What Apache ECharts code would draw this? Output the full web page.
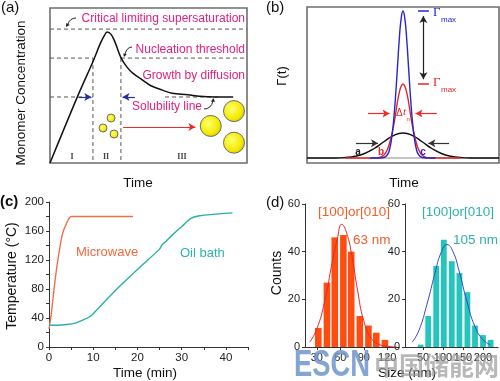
<!DOCTYPE html>
<html><head><meta charset="utf-8">
<script src="https://cdn.jsdelivr.net/npm/echarts@6/dist/echarts.min.js"></script>
<style>html,body{margin:0;padding:0;background:#fff}#c{width:500px;height:381px}</style>
</head><body><div id="c"></div>
<script>
// ---------- (a) LaMer schematic (arbitrary units 0-100) ----------
const aCurve = [[0,0],[14,43],[22,66],[25.5,77],[27.5,82],[29,84.5],[31,83],[33,78],[36,68],[39,62],[42,58],[47,53.5],[51,50],[57,47],[62,45],[70,44],[76,43],[84,42.6],[93,42.6]];
const aCritical = 86.4;
const aNucleation = 67.7;
const aSolubility = 42.6;
const aStageBounds = [21.8, 36.0];
const aSmallNuclei = [[26.9,22.6],[31,29],[32.5,18.7]];
const aBigParticles = [[81.6,23.9],[93.4,33.5],[93.4,13.1]];

// ---------- (b) nucleation rate curves (arbitrary units) ----------
const bBlue = [[33,0],[38,0],[40,0.3],[42,2.4],[43,5.6],[44,11.9],[45,22.4],[46,37.5],[47,56],[48,75],[49,89],[50,94.2],[51,89],[52,75],[53,56],[54,37.5],[55,22.4],[56,11.9],[57,5.6],[58,2.4],[60,0.3],[62,0],[67,0]];
const bRed = [[20,0],[35,0],[38,0.4],[40,1.8],[41,3.3],[42,5.8],[43,9.5],[44,14.5],[45,20],[46,27],[47,35.2],[48,41.6],[49,45.9],[50,47.4],[51,45.9],[52,41.6],[53,35.2],[54,27],[55,20],[56,14.5],[57,9.5],[58,5.8],[59,3.3],[60,1.8],[62,0.4],[65,0],[80,0]];
const bBlack = [[0,0],[15,0],[20,0.3],[25,1.1],[30,2.9],[35,6.1],[40,10.4],[45,14.4],[50,16],[55,14.4],[60,10.4],[65,6.1],[70,2.9],[75,1.1],[80,0.3],[85,0],[100,0]];
const bGammaBlue = 94.2;
const bGammaRed = 47.4;

// ---------- (c) heating profiles ----------
const microwaveTime = [0, 0.5, 1.3, 2, 3, 4, 5, 19];
const microwaveTemp = [25, 45, 88, 120, 155, 171, 180, 180];
const oilTime = [0, 2, 4, 6, 8, 9, 10, 15, 20, 25, 25.6, 26.5, 28, 30, 32, 34, 37, 41.5];
const oilTemp = [30, 30, 31, 33, 38, 41, 46, 78, 107, 135, 141, 146, 155, 166, 177, 181, 183, 185];

// ---------- (d) size histograms ----------
const sizeLeft = [32, 43, 53, 64, 74, 85, 96, 106, 117];
const countLeft = [8, 27, 46, 47, 40, 13, 9, 6, 3];
const fitLeftX = [21, 30, 40, 50, 56, 62, 68, 75, 82, 90, 100, 110, 120, 132];
const fitLeftY = [2, 7.5, 19, 36, 45, 51.5, 48, 38, 24, 11, 3.5, 1, 0.3, 0];
const sizeRight = [44, 63, 83, 102, 122, 141, 161, 180, 200, 219];
const countRight = [1, 13, 34, 45, 36, 31, 23, 9, 5, 3];
const fitRightX = [23, 40, 60, 80, 95, 110, 125, 140, 160, 180, 200, 218];
const fitRightY = [2, 7, 18, 31, 39.5, 43, 40, 32, 19, 8.5, 3, 1];
const leftTicks = [30, 60, 90, 120];
const rightTicks = [50, 100, 150, 200];

const zip = (a, b) => a.map((v, i) => [v, b[i]]);
const FONT = 'Liberation Sans';
const PINK = '#e3207f';
const ORANGE = '#f0602a';
const TEAL = '#2fb3ab';

const chart = echarts.init(document.getElementById('c'), null, {renderer: 'canvas'});

function hidden(gi, min, max) {
  return {gridIndex: gi, type: 'value', min, max, show: false};
}
function dashed(gi, pts) {
  return {type: 'line', xAxisIndex: gi, yAxisIndex: gi, data: pts, showSymbol: false, silent: true,
    lineStyle: {color: '#555', width: 1, type: [4, 3]}, z: 2};
}
function solid(gi, pts, color, width) {
  return {type: 'line', xAxisIndex: gi, yAxisIndex: gi, data: pts, showSymbol: false, silent: true,
    lineStyle: {color, width: width || 1.2}, z: 3};
}
function arrows(gi, list) {
  return {type: 'line', xAxisIndex: gi, yAxisIndex: gi, data: [], silent: true,
    markLine: {silent: true, symbol: ['none', 'arrow'], symbolSize: [6, 7], label: {show: false},
      animation: false,
      data: list.map(a => [{coord: a.from, lineStyle: {color: a.color, width: 1.2, type: 'solid'}, symbol: a.both ? 'arrow' : 'none'}, {coord: a.to}])}};
}
const yellow = {type: 'radial', x: 0.4, y: 0.4, r: 0.65,
  colorStops: [{offset: 0, color: '#ffff70'}, {offset: 0.7, color: '#f3ea00'}, {offset: 1, color: '#d8c800'}]};
function particles(pts, radius) {
  return {type: 'custom', coordinateSystem: 'cartesian2d', xAxisIndex: 0, yAxisIndex: 0, data: pts, silent: true, clip: false, z: 5,
    encode: {x: 0, y: 1},
    renderItem: function (params, api) {
      const p = api.coord([api.value(0), api.value(1)]);
      return {type: 'circle', shape: {cx: p[0], cy: p[1], r: radius},
        style: {fill: yellow, stroke: '#6d6d6d', lineWidth: 1}};
    }};
}

const axisCommon = {
  axisLine: {lineStyle: {color: '#333', width: 1}},
  axisTick: {length: 3, lineStyle: {color: '#333'}},
  axisLabel: {fontFamily: FONT, fontSize: 11, color: '#222', margin: 5},
  splitLine: {show: false}
};

function txt(text, x, y, o) {
  o = o || {};
  return {type: 'text', x: x, y: y, rotation: o.rot || 0, z: o.z || 50, scaleX: o.sx || 1,
    style: {text, fill: o.color || '#111', fontSize: o.size || 13, fontFamily: o.family || FONT,
      fontWeight: o.weight || 'normal', fontStyle: o.style || 'normal',
      align: o.align || 'left', textAlign: o.align || 'left',
      verticalAlign: 'middle', textVerticalAlign: 'middle', opacity: o.opacity == null ? 1 : o.opacity}};
}

const option = {
  animation: false,
  backgroundColor: '#fff',
  grid: [
    {left: 50, top: 8, width: 197, height: 155, show: true, borderColor: '#6e6e6e', borderWidth: 1.6, backgroundColor: 'transparent'},
    {left: 307, top: 7, width: 192, height: 156, show: true, borderColor: '#6e6e6e', borderWidth: 1.6, backgroundColor: 'transparent'},
    {left: 49, top: 202, width: 199, height: 145},
    {left: 305, top: 204, width: 94, height: 143},
    {left: 405, top: 204, width: 93, height: 143}
  ],
  xAxis: [
    hidden(0, 0, 100),
    hidden(1, 0, 100),
    Object.assign({}, axisCommon, {gridIndex: 2, type: 'value', min: 0, max: 45, interval: 10,
      minorTick: {show: true, splitNumber: 2, length: 3, lineStyle: {color: '#333'}},
      axisLabel: Object.assign({}, axisCommon.axisLabel, {fontSize: 11.5, showMaxLabel: false, formatter: v => (v % 10 === 0 ? String(v) : '')})}),
    Object.assign({}, axisCommon, {gridIndex: 3, type: 'value', min: 15, max: 135,
      axisTick: {length: 3, lineStyle: {color: '#333'}, customValues: leftTicks},
      axisLabel: Object.assign({}, axisCommon.axisLabel, {customValues: leftTicks})}),
    Object.assign({}, axisCommon, {gridIndex: 4, type: 'value', min: 5, max: 237.5,
      axisTick: {length: 3, lineStyle: {color: '#333'}, customValues: rightTicks},
      axisLabel: Object.assign({}, axisCommon.axisLabel, {customValues: rightTicks, hideOverlap: false})})
  ],
  yAxis: [
    hidden(0, 0, 100),
    hidden(1, -3.2, 96.8),
    Object.assign({}, axisCommon, {gridIndex: 2, type: 'value', min: 0, max: 200, interval: 40,
      minorTick: {show: true, splitNumber: 2, length: 3, lineStyle: {color: '#333'}},
      axisLabel: Object.assign({}, axisCommon.axisLabel, {fontSize: 11.5})}),
    Object.assign({}, axisCommon, {gridIndex: 3, type: 'value', min: 0, max: 60, interval: 20}),
    Object.assign({}, axisCommon, {gridIndex: 4, type: 'value', min: 0, max: 60, interval: 20})
  ],
  series: [
    // ----- (a)
    dashed(0, [[0, aCritical], [100, aCritical]]),
    dashed(0, [[0, aNucleation], [aStageBounds[0], aNucleation]]),
    dashed(0, [[aStageBounds[1], aNucleation], [100, aNucleation]]),
    dashed(0, [[0, aSolubility], [aStageBounds[0], aSolubility]]),
    dashed(0, [[58.4, aSolubility], [86.8, aSolubility]]),
    dashed(0, [[aStageBounds[0], aNucleation], [aStageBounds[0], 0]]),
    dashed(0, [[aStageBounds[1], aNucleation], [aStageBounds[1], 0]]),
    {type: 'line', xAxisIndex: 0, yAxisIndex: 0, data: aCurve, smooth: 0.35, showSymbol: false, silent: true,
      lineStyle: {color: '#111', width: 1.5}, z: 4},
    arrows(0, [
      {from: [14.6, aSolubility], to: [21, aSolubility], color: '#23319a'},
      {from: [43.1, aSolubility], to: [36.8, aSolubility], color: '#23319a'},
      {from: [37.1, 23.2], to: [73.8, 23.2], color: '#ef2a2a'}
    ]),
    particles(aSmallNuclei, 4),
    particles(aBigParticles, 10.5),
    // ----- (b)
    solid(1, [[0, 0], [100, 0]], '#8a8a8a', 1.2),
    {type: 'line', xAxisIndex: 1, yAxisIndex: 1, data: bBlack, smooth: true, showSymbol: false, silent: true, lineStyle: {color: '#111', width: 1.4}, z: 4},
    {type: 'line', xAxisIndex: 1, yAxisIndex: 1, data: bRed, smooth: true, showSymbol: false, silent: true, lineStyle: {color: '#e3262a', width: 1.4}, z: 5},
    {type: 'line', xAxisIndex: 1, yAxisIndex: 1, data: bBlue, smooth: true, showSymbol: false, silent: true, lineStyle: {color: '#2626cc', width: 1.4}, z: 6},
    solid(1, [[57.8, bGammaBlue], [63.5, bGammaBlue]], '#2626cc', 1.4),
    solid(1, [[57.8, bGammaRed], [63.5, bGammaRed]], '#e3262a', 1.4),
    arrows(1, [
      {from: [60.6, 50.5], to: [60.6, 91], color: '#222', both: true},
      {from: [31.8, 28.5], to: [43, 28.5], color: '#ef2a2a'},
      {from: [67.6, 28.5], to: [56.5, 28.5], color: '#ef2a2a'},
      {from: [25.5, 9.4], to: [37, 9.4], color: '#333'},
      {from: [74, 9.4], to: [63.2, 9.4], color: '#333'}
    ]),
    // ----- (c)
    {type: 'line', xAxisIndex: 2, yAxisIndex: 2, data: zip(microwaveTime, microwaveTemp), smooth: 0.2, showSymbol: false, silent: true,
      lineStyle: {color: '#ee6f45', width: 1.4}, z: 4},
    {type: 'line', xAxisIndex: 2, yAxisIndex: 2, data: zip(oilTime, oilTemp), smooth: 0.2, showSymbol: false, silent: true,
      lineStyle: {color: '#27b0a8', width: 1.4}, z: 4},
    // ----- (d)
    {type: 'bar', xAxisIndex: 3, yAxisIndex: 3, data: zip(sizeLeft, countLeft), barWidth: 6.6, silent: true,
      itemStyle: {color: '#ff4d12'}, z: 3},
    {type: 'line', xAxisIndex: 3, yAxisIndex: 3, data: zip(fitLeftX, fitLeftY), smooth: true, showSymbol: false, silent: true,
      lineStyle: {color: '#e8282a', width: 1}, z: 4},
    {type: 'bar', xAxisIndex: 4, yAxisIndex: 4, data: zip(sizeRight, countRight), barWidth: 5.8, silent: true,
      itemStyle: {color: '#22c6bd'}, z: 3},
    {type: 'line', xAxisIndex: 4, yAxisIndex: 4, data: zip(fitRightX, fitRightY), smooth: true, showSymbol: false, silent: true,
      lineStyle: {color: '#3a48c8', width: 1}, z: 4}
  ],
  graphic: [
    // (a)
    txt('(a)', 1, 8, {size: 15}),
    txt('Monomer Concentration', 21, 93, {rot: Math.PI / 2, size: 13.5, align: 'center'}),
    txt('Time', 138, 183, {size: 13.5, align: 'center'}),
    txt('Critical limiting supersaturation', 245, 19, {size: 12, color: PINK, align: 'right'}),
    txt('Nucleation threshold', 245, 49.5, {size: 12, color: PINK, align: 'right'}),
    txt('Growth by diffusion', 245, 76, {size: 12, color: PINK, align: 'right'}),
    txt('Solubility line', 132, 107, {size: 12, color: PINK}),
    txt('I', 72, 157, {size: 8, family: 'Liberation Serif', weight: 'bold', color: '#444', align: 'center'}),
    txt('II', 106, 157, {size: 8, family: 'Liberation Serif', weight: 'bold', color: '#444', align: 'center'}),
    txt('III', 182, 157, {size: 8, family: 'Liberation Serif', weight: 'bold', color: '#444', align: 'center'}),
    {type: 'bezierCurve', z: 50, shape: {x1: 76, y1: 18, cpx1: 70, cpy1: 18, x2: 68, y2: 24}, style: {stroke: '#222', lineWidth: 1, fill: null}},
    {type: 'polygon', z: 50, shape: {points: [[66, 27], [66.3, 23], [69.8, 25]]}, style: {fill: '#222'}},
    {type: 'bezierCurve', z: 50, shape: {x1: 132, y1: 47, cpx1: 127, cpy1: 47, x2: 125, y2: 54}, style: {stroke: '#222', lineWidth: 1, fill: null}},
    {type: 'polygon', z: 50, shape: {points: [[124, 57], [123.2, 53.5], [126.8, 54.2]]}, style: {fill: '#222'}},
    {type: 'bezierCurve', z: 50, shape: {x1: 204, y1: 109, cpx1: 211, cpy1: 109, x2: 213, y2: 101}, style: {stroke: '#222', lineWidth: 1, fill: null}},
    {type: 'polygon', z: 50, shape: {points: [[213.3, 98], [211, 101.8], [215, 101.8]]}, style: {fill: '#222'}},
    // (b)
    txt('(b)', 266, 8, {size: 15}),
    txt('Γ(t)', 282, 76, {rot: Math.PI / 2, size: 13, align: 'center'}),
    txt('Time', 404, 183, {size: 13.5, align: 'center'}),
    txt('Γ', 433, 12.5, {size: 13, family: 'Liberation Serif', color: '#2626cc'}),
    txt('max', 441, 19.5, {size: 8, color: '#2626cc'}),
    txt('Γ', 433, 83, {size: 13, family: 'Liberation Serif', color: '#e3262a'}),
    txt('max', 441, 90, {size: 8, color: '#e3262a'}),
    txt('Δ', 396, 113, {size: 10, color: '#e3262a'}),
    txt('t', 403, 112.5, {size: 11, style: 'italic', family: 'Liberation Serif', color: '#e3262a'}),
    txt('n', 406.5, 119, {size: 6, color: '#e3262a'}),
    txt('a', 358, 152, {size: 10, weight: 'bold', color: '#222', align: 'center'}),
    txt('b', 381, 152, {size: 10, weight: 'bold', color: '#e3262a', align: 'center'}),
    txt('c', 423, 152, {size: 10, weight: 'bold', color: '#2626cc', align: 'center'}),
    // (c)
    txt('(c)', 0, 202, {size: 15, weight: 'bold'}),
    txt('Temperature (°C)', 12, 276, {rot: Math.PI / 2, size: 14, align: 'center'}),
    txt('Time (min)', 145, 373, {size: 13.5, align: 'center'}),
    txt('Microwave', 76, 252, {size: 13, color: '#ee6a3e'}),
    txt('Oil bath', 180, 253, {size: 13, color: TEAL}),
    // (d)
    txt('(d)', 266, 203, {size: 15}),
    txt('Counts', 277, 273, {rot: Math.PI / 2, size: 14, align: 'center'}),
    txt('Size (nm)', 407, 373, {size: 13.5, align: 'center'}),
    txt('[100]or[010]', 318, 212, {size: 13.5, color: ORANGE}),
    txt('63 nm', 353, 240, {size: 13.5, color: ORANGE}),
    txt('[100]or[010]', 422, 212, {size: 13.5, color: TEAL}),
    txt('105 nm', 453, 240, {size: 13.5, color: TEAL}),
    // watermark
    txt('ESCN', 294, 366, {size: 36, weight: 'bold', color: '#6f95cc', sx: 0.76, z: 100, opacity: 0.85}),
    txt('中国储能网', 374, 365, {size: 25, family: 'Noto Sans CJK SC', weight: 'bold', color: '#9a9a9a', z: 100, opacity: 0.7})
  ]
};
chart.setOption(option);
</script>
</body></html>
